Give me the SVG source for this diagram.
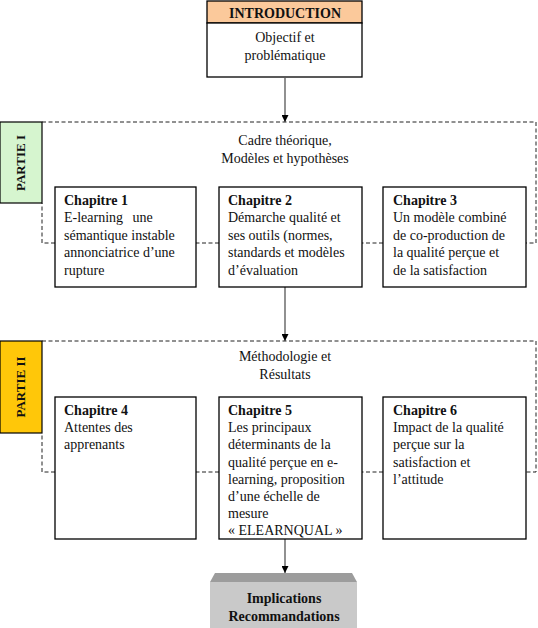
<svg xmlns="http://www.w3.org/2000/svg" width="538" height="628" viewBox="0 0 538 628" font-family="'Liberation Serif', 'Times New Roman', 'DejaVu Serif', serif">
<defs>
<style>
text{font-family:'Liberation Serif','Times New Roman','DejaVu Serif',serif;font-size:14px;fill:#111}
.b{font-weight:bold}
.c{text-anchor:middle}
.box{fill:#fff;stroke:#000;stroke-width:1.3}
.dash{fill:none;stroke:#222;stroke-width:1;stroke-dasharray:4,2.5}
.conn{stroke:#555;stroke-width:1.3;fill:none}
</style>
<marker id="ah" viewBox="0 0 10 10" refX="10" refY="5" markerWidth="7" markerHeight="7" markerUnits="userSpaceOnUse" orient="auto">
<path d="M0,0 L10,5 L0,10 z" fill="#000"/>
</marker>
</defs>
<rect width="538" height="628" fill="#fff"/>

<g id="partie1-frame">
<path class="dash" d="M42,122 H536 V243 H526 M383,243 H362 M219,243 H196 M55,243 H42 V203"/>
</g>
<g id="partie2-frame">
<path class="dash" d="M42,341 H536 V472 H526 M383,472 H362 M219,472 H196 M55,472 H42 V433"/>
</g>

<g id="connectors">
<line class="conn" x1="285" y1="78" x2="285" y2="122" marker-end="url(#ah)"/>
<line class="conn" x1="285" y1="287" x2="285" y2="341" marker-end="url(#ah)"/>
<line class="conn" x1="285" y1="539" x2="285" y2="573" marker-end="url(#ah)"/>
</g>

<g id="introduction">
<rect x="207" y="1" width="155" height="22" fill="#FBC99B" stroke="#000" stroke-width="1.3"/>
<rect class="box" x="207" y="23" width="155" height="54"/>
<text class="b c" x="285" y="18">INTRODUCTION</text>
<text class="c" x="285" y="42">Objectif et</text>
<text class="c" x="285" y="60">problématique</text>
</g>

<g id="partie1-label">
<rect x="0" y="122" width="42" height="81" fill="#D6F5CF" stroke="#000" stroke-width="1.2"/>
<text class="b c" transform="translate(25,163) rotate(-90)" style="font-size:13px">PARTIE I</text>
</g>
<g id="partie1-title">
<text class="c" x="285" y="145">Cadre théorique,</text>
<text class="c" x="285" y="163">Modèles et hypothèses</text>
</g>

<g id="chapitre1">
<rect class="box" x="55" y="187" width="141" height="100"/>
<text class="b" x="64" y="205">Chapitre 1</text>
<text x="64" y="222" word-spacing="6">E-learning une</text>
<text x="64" y="240">sémantique instable</text>
<text x="64" y="257">annonciatrice d’une</text>
<text x="64" y="275">rupture</text>
</g>
<g id="chapitre2">
<rect class="box" x="219" y="187" width="143" height="100"/>
<text class="b" x="228" y="205">Chapitre 2</text>
<text x="228" y="222">Démarche qualité et</text>
<text x="228" y="240">ses outils (normes,</text>
<text x="228" y="257">standards et modèles</text>
<text x="228" y="275">d’évaluation</text>
</g>
<g id="chapitre3">
<rect class="box" x="383" y="187" width="143" height="100"/>
<text class="b" x="393" y="205">Chapitre 3</text>
<text x="393" y="222">Un modèle combiné</text>
<text x="393" y="240">de co-production de</text>
<text x="393" y="257">la qualité perçue et</text>
<text x="393" y="275">de la satisfaction</text>
</g>

<g id="partie2-label">
<rect x="0" y="341" width="42" height="92" fill="#FFC709" stroke="#000" stroke-width="1.2"/>
<text class="b c" transform="translate(25,387) rotate(-90)" style="font-size:13px">PARTIE II</text>
</g>
<g id="partie2-title">
<text class="c" x="285" y="361">Méthodologie et</text>
<text class="c" x="285" y="379">Résultats</text>
</g>

<g id="chapitre4">
<rect class="box" x="55" y="397" width="141" height="142"/>
<text class="b" x="64" y="415">Chapitre 4</text>
<text x="64" y="432">Attentes des</text>
<text x="64" y="449">apprenants</text>
</g>
<g id="chapitre5">
<rect class="box" x="219" y="397" width="143" height="142"/>
<text class="b" x="228" y="415">Chapitre 5</text>
<text x="228" y="432">Les principaux</text>
<text x="228" y="449">déterminants de la</text>
<text x="228" y="467">qualité perçue en e-</text>
<text x="228" y="484">learning, proposition</text>
<text x="228" y="501">d’une échelle de</text>
<text x="228" y="518">mesure</text>
<text x="228" y="535">« ELEARNQUAL »</text>
</g>
<g id="chapitre6">
<rect class="box" x="383" y="397" width="143" height="142"/>
<text class="b" x="393" y="415">Chapitre 6</text>
<text x="393" y="432">Impact de la qualité</text>
<text x="393" y="449">perçue sur la</text>
<text x="393" y="467">satisfaction et</text>
<text x="393" y="484">l’attitude</text>
</g>

<g id="implications">
<path d="M215,573 H352 L357,582 H210 Z" fill="#9C9C9C"/>
<rect x="210" y="582" width="147" height="46" fill="#C9C9C9"/>
<text class="b c" x="284" y="603">Implications</text>
<text class="b c" x="284" y="621">Recommandations</text>
</g>
</svg>
